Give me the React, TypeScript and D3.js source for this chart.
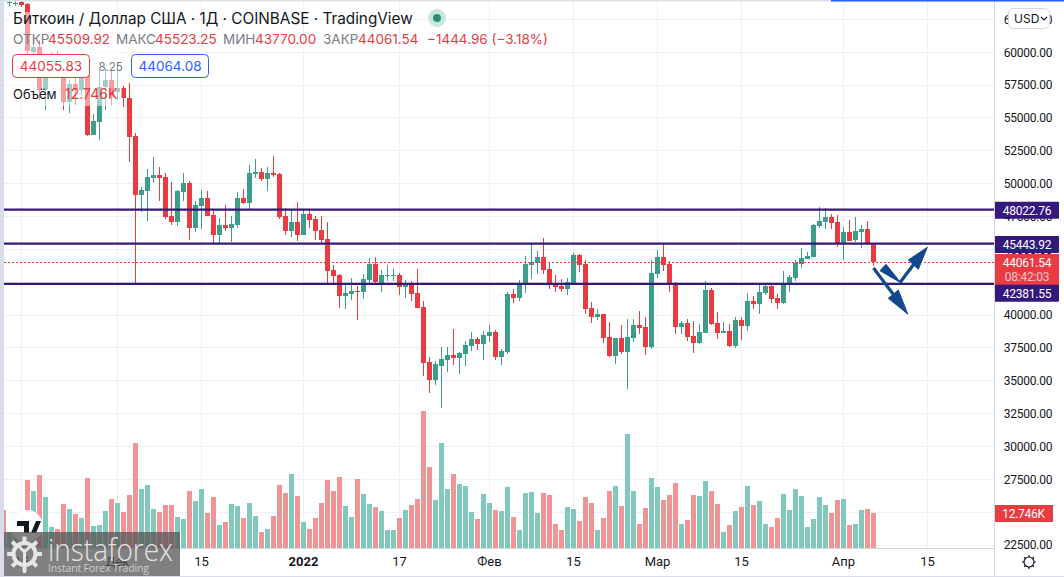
import * as d3 from "d3";
import React from "react";

const width = 1064;
const height = 577;

// one candle per day, first one is 12 Nov 2021
const startDate = new Date(Date.UTC(2021, 10, 12));

const opens = [
  64300, 63752, 63714, 63828, 63676, 60023, 60403, 57131, 58653, 59262, 58120, 56218, 57588, 57131, 58501, 53707,
  54696, 57359, 57892, 56979, 57283, 56522, 53630, 49141, 49468, 50434, 50663, 50510, 47542, 47086, 49369, 50054,
  46629, 48303, 48912, 47618, 46097, 46858, 46629, 46858, 48912, 48532, 50739, 50891, 50358, 50815, 50739, 47542,
  46401, 47086, 46097, 47695, 47314, 46477, 45792, 43433, 43052, 41454, 41607, 41835, 41759, 42672, 43890, 42444,
  42976, 42976, 43052, 42139, 42368, 41683, 40617, 36432, 35062, 36127, 36584, 36965, 36736, 37041, 37649, 38182,
  37802, 38410, 38715, 36812, 37193, 41607, 41302, 42292, 43814, 43966, 44422, 43509, 42368, 42215, 41987, 42444,
  44575, 43890, 40541, 39856, 40085, 38334, 36888, 38258, 37193, 38258, 39248, 39095, 37573, 43129, 44422, 43890,
  42444, 39095, 39400, 38410, 37878, 38639, 41911, 39400, 38639, 38791, 37649, 39628, 39171, 41074, 40846, 41683,
  42215, 41302, 40922, 42292, 42824, 43890, 44270, 44422, 46781, 47086, 47466, 47086, 45412, 46325, 45716, 46325,
  46553, 45509.92,
];
const highs = [
  64400, 63904, 63904, 63904, 63752, 60936, 60936, 59414, 60023, 60099, 58653, 57892, 58044, 58653, 58653, 55305,
  58653, 58805, 58653, 59262, 57435, 57664, 53859, 49749, 51119, 52032, 51271, 50815, 50130, 49521, 50815, 50206,
  48684, 49521, 49445, 48000, 47390, 48380, 47542, 49369, 49597, 51424, 51880, 51195, 51271, 52108, 50800, 48151,
  48000, 48608, 48000, 48000, 47542, 47542, 47086, 43814, 43129, 42292, 42824, 42215, 43129, 44346, 44422, 43433,
  43814, 43509, 43205, 42672, 42596, 43509, 41074, 36812, 36508, 37573, 37573, 38943, 37193, 38030, 38715, 38334,
  38791, 39248, 38867, 37421, 41759, 41987, 42672, 44498, 45488, 44879, 45868, 43966, 43052, 42748, 42824, 44727,
  44651, 44194, 41002, 40465, 40085, 39476, 38258, 39248, 39704, 39704, 40313, 39856, 44194, 44955, 45412, 44118,
  42520, 39552, 39704, 39552, 39324, 42596, 42063, 40237, 39476, 39324, 39856, 39856, 41683, 41454, 42368, 42444,
  42292, 41607, 43357, 43052, 44194, 45107, 44803, 46934, 48227, 48151, 47695, 47618, 46705, 47238, 47466, 46858,
  47162, 45523.25,
];
const lows = [
  64100, 63523, 63523, 63447, 59642, 59642, 56370, 55609, 58273, 58044, 55609, 55381, 55990, 56750, 53630, 53707,
  53326, 55609, 55990, 56370, 55837, 51652, 42368, 47847, 47162, 50054, 48684, 47314, 46858, 46781, 48684, 45716,
  46325, 46553, 47542, 45488, 45488, 46401, 45564, 46629, 48456, 48000, 50434, 50206, 49445, 50510, 47314, 46097,
  45944, 45640, 46097, 46629, 45716, 45412, 42368, 42368, 40541, 40465, 41150, 39628, 41226, 42444, 42292, 41759,
  42596, 42596, 41530, 41302, 41074, 40541, 35366, 34073, 34682, 32931, 35671, 36204, 35519, 36127, 37269, 37345,
  36584, 37954, 36584, 36204, 37041, 40922, 41074, 41683, 42748, 43129, 43129, 41987, 41759, 41759, 41530, 42444,
  43281, 40085, 39400, 39628, 37878, 36812, 36280, 37041, 34377, 37954, 38563, 36965, 37421, 42824, 43357, 41759,
  38563, 38563, 38030, 37117, 37802, 38639, 39248, 38182, 38639, 37573, 37497, 38106, 38791, 40465, 40085, 41530,
  40922, 40465, 40846, 41759, 42596, 43585, 44270, 44422, 46629, 46553, 46553, 45183, 44194, 45640, 45564, 45107,
  45336, 43770,
];
const closes = [
  64200, 63828, 63790, 63600, 60099, 60403, 57131, 58044, 59414, 58196, 56218, 57588, 57131, 58120, 53707, 54772,
  57359, 57892, 56598, 57283, 56522, 53554, 49141, 49521, 50510, 50663, 50434, 47466, 47086, 49445, 50054, 46629,
  48380, 48912, 47542, 46097, 46858, 46629, 46934, 48912, 48532, 50815, 50891, 50358, 50815, 50663, 47466, 46401,
  47086, 46097, 47695, 47238, 46401, 45716, 43357, 42976, 41454, 41683, 41835, 41759, 42748, 43890, 42520, 43052,
  43052, 43052, 42139, 42368, 41607, 40541, 36356, 35062, 36280, 36660, 36965, 36736, 37117, 37725, 38182, 37802,
  38487, 38715, 36812, 37269, 41607, 41302, 42368, 43890, 44042, 44422, 43433, 42292, 42139, 41987, 42520, 44575,
  43814, 40465, 39856, 40085, 38258, 36888, 38258, 37193, 38334, 39248, 39019, 37573, 43205, 44422, 43814, 42368,
  39095, 39400, 38334, 37878, 38715, 41911, 39324, 38639, 38791, 37649, 39628, 39171, 41074, 40846, 41759, 42215,
  41226, 40922, 42368, 42900, 43966, 44346, 44498, 46858, 47162, 47466, 47010, 45412, 46325, 45640, 46401, 46553,
  45412, 44061.54,
];

// volume in thousands
const volumes = [
  13.8, 5.9, 4.7, 2.9, 24.8, 20.8, 26.6, 18.6, 7.6, 6.9, 16, 14.2, 12.4, 10.9, 25.5, 8, 8.4, 13.5, 17.8, 16.4, 13.1,
  19.3, 38.2, 21.5, 22.9, 14.2, 13.1, 15.7, 15.7, 11.3, 10.6, 20.8, 17.1, 21.5, 12.7, 18.6, 8.4, 9.5, 16, 15.3, 10.9,
  16.4, 11.7, 5.8, 6.9, 11.7, 22.9, 20, 27, 18.9, 9.5, 6.9, 10.9, 16.4, 24.8, 20.8, 25.9, 15.3, 11.3, 25.1, 19.7, 16,
  14.9, 13.5, 6.6, 6.6, 10.9, 13.8, 15.7, 17.8, 49.9, 29.5, 17.5, 38.2, 21.5, 27, 23.3, 22.6, 13.1, 10.6, 19.7, 16.4,
  13.8, 13.5, 22.2, 11.3, 6.6, 20, 20.4, 12.7, 20, 19.3, 8.7, 6.6, 14.9, 14.2, 9.8, 18.6, 16.4, 6.6, 10.9, 20.8, 22.6,
  15.3, 41.5, 20.8, 8.7, 14.6, 25.5, 22.2, 17.5, 19.3, 23.7, 8.7, 10.2, 19.3, 18.9, 24.4, 20.8, 16, 5.8, 8.4, 13.5,
  14.9, 22.6, 15.7, 17.1, 8.7, 7.6, 10.9, 19.7, 13.8, 21.5, 18.9, 7.6, 10.6, 18.6, 15.7, 12.7, 17.5, 17.8, 8.4, 8.7,
  13.8, 14.2, 12.746,
];

const priceTicks = d3.range(22500, 62501, 2500);
const levels = [48022.76, 45443.92, 42381.55];
const lastPrice = 44061.54;
const lastVolume = 12.746;

const timeTicks: [Date, string][] = [
  [new Date(Date.UTC(2021, 10, 15)), "15"],
  [new Date(Date.UTC(2021, 11, 1)), "Дек"],
  [new Date(Date.UTC(2021, 11, 15)), "15"],
  [new Date(Date.UTC(2022, 0, 1)), "2022"],
  [new Date(Date.UTC(2022, 0, 17)), "17"],
  [new Date(Date.UTC(2022, 1, 1)), "Фев"],
  [new Date(Date.UTC(2022, 1, 15)), "15"],
  [new Date(Date.UTC(2022, 2, 1)), "Мар"],
  [new Date(Date.UTC(2022, 2, 15)), "15"],
  [new Date(Date.UTC(2022, 3, 1)), "Апр"],
  [new Date(Date.UTC(2022, 3, 15)), "15"],
];

const legendRow: [string, string][] = [
  ["ОТКР", "45509.92"],
  ["МАКС", "45523.25"],
  ["МИН", "43770.00"],
  ["ЗАКР", "44061.54"],
];

const up = "#3d9c8a";
const down = "#ea3a42";
const upVol = "#81c9bd";
const downVol = "#f09597";
const levelColor = "#34187c";
const grid = "#eff0f3";
const arrowBlue = "#12488c";
const sans = "Inter, 'Noto Sans', sans-serif";
const axisFont = "Roboto, sans-serif";

const paneRight = 994;
const paneBottom = 548;

const x = d3
  .scaleUtc()
  .domain([startDate, new Date(Date.UTC(2022, 3, 15))])
  .range([3.3, 927.3]);
const y = d3.scaleLinear().domain([60000, 22500]).range([52.3, 545]);
const volY = d3.scaleLinear().domain([0, lastVolume]).range([paneBottom, 513]);

const snap = (v: number) => Math.round(v - 0.5) + 0.5;
const fmt = d3.format(".2f");

const Gear: React.FC<{ cx: number; cy: number; r: number; color: string; sw: number }> = ({ cx, cy, r, color, sw }) => (
  <g stroke={color} fill="none" strokeWidth={sw}>
    <circle cx={cx} cy={cy} r={r} />
    {d3.range(8).map((k) => {
      const a = (k * Math.PI) / 4;
      return (
        <line
          key={k}
          x1={cx + Math.cos(a) * r}
          y1={cy + Math.sin(a) * r}
          x2={cx + Math.cos(a) * (r + sw * 1.6)}
          y2={cy + Math.sin(a) * (r + sw * 1.6)}
        />
      );
    })}
  </g>
);

const Candles: React.FC = () => (
  <g>
    {opens.map((o, i) => {
      const c = closes[i];
      const color = c >= o ? up : down;
      const cx = snap(x(d3.utcDay.offset(startDate, i)));
      const top = Math.round(y(Math.max(o, c)));
      const bottom = Math.round(y(Math.min(o, c)));
      return (
        <g key={i} fill={color} shapeRendering="crispEdges">
          <rect x={cx - 0.5} width={1} y={y(highs[i])} height={y(lows[i]) - y(highs[i])} />
          <rect x={cx - 2.5} width={5} y={top} height={Math.max(1, bottom - top)} />
        </g>
      );
    })}
  </g>
);

const VolumeBars: React.FC = () => (
  <g shapeRendering="crispEdges">
    {volumes.map((v, i) => {
      const cx = snap(x(d3.utcDay.offset(startDate, i)));
      return (
        <rect
          key={i}
          x={cx - 2.5}
          width={5}
          y={volY(v)}
          height={paneBottom - volY(v)}
          fill={closes[i] >= opens[i] ? upVol : downVol}
        />
      );
    })}
  </g>
);

const Arrows: React.FC = () => (
  <g fill={arrowBlue} stroke={arrowBlue}>
    <line x1={873.5} y1={268} x2={899} y2={302} strokeWidth={3.2} />
    <path d="M907.7 314 L888.3 298.3 L898.3 290 Z" strokeWidth={1} />
    <line x1={900} y1={282.5} x2={914} y2={264} strokeWidth={3.2} />
    <path d="M927.3 247.3 L908.3 260 L918.3 269.3 Z" strokeWidth={1} />
    <path d="M900.7 282.7 L880 270.7 L886 264.3 Z" strokeWidth={1} />
  </g>
);

const Legend: React.FC = () => {
  const rowX = [13, 116, 223, 323];
  const valX = [48, 155, 255, 358];
  return (
    <g fontFamily={sans}>
      <rect x={10} y={12} width={112} height={94} fill="#fff" fillOpacity={0.5} />
      <text x={13} y={24} fontSize={15.3} fill="#131722">
        Биткоин / Доллар США · 1Д · COINBASE · TradingView
      </text>
      <circle cx={437} cy={18} r={9} fill="#c9e6df" />
      <circle cx={437} cy={18} r={4} fill="#2f8f75" />
      {legendRow.map(([name, val], i) => (
        <g key={name} fontSize={13.5}>
          <text x={rowX[i]} y={44} fill="#787b86">
            {name}
          </text>
          <text x={valX[i]} y={44} fill={down}>
            {val}
          </text>
        </g>
      ))}
      <text x={427} y={44} fontSize={13.5} fill={down}>
        −1444.96 (−3.18%)
      </text>
      <rect x={12.5} y={54.5} width={77} height={23} rx={4} fill="#fff" stroke={down} />
      <text x={51} y={71} fontSize={13.5} fill={down} textAnchor="middle">
        44055.83
      </text>
      <text x={110.7} y={71} fontSize={11.5} fill="#787b86" textAnchor="middle">
        8.25
      </text>
      <rect x={131.5} y={54.5} width={77} height={23} rx={4} fill="#fff" stroke="#2962ff" />
      <text x={170} y={71} fontSize={13.5} fill="#2962ff" textAnchor="middle">
        44064.08
      </text>
      <text x={13} y={99} fontSize={13} fill="#131722">
        Объём
      </text>
      <text x={65} y={99} fontSize={14} fill={down}>
        12.746K
      </text>
    </g>
  );
};

// the third level label is pushed below the last price box, as TradingView does
const levelLabelY = [210.3, 244.6, 293.3];

const PriceAxis: React.FC = () => (
  <g fontFamily={axisFont} fontSize={12} letterSpacing={-0.25}>
    <rect x={paneRight} y={0} width={width - paneRight} height={height} fill="#fff" />
    {priceTicks.map((t) => (
      <text key={t} x={1028} y={y(t) + 4.2} textAnchor="middle" fill="#131722">
        {fmt(t)}
      </text>
    ))}
    <rect x={paneRight} y={254} width={65} height={31} fill={down} />
    <text x={1027} y={267} textAnchor="middle" fill="#fff">
      {fmt(lastPrice)}
    </text>
    <text x={1027} y={281} textAnchor="middle" fill="#f9c6c9">
      08:42:03
    </text>
    {levels.map((l, i) => (
      <g key={l}>
        <rect x={paneRight} y={levelLabelY[i] - 8.5} width={65} height={17} rx={1} fill={levelColor} />
        <text x={1027} y={levelLabelY[i] + 4.2} textAnchor="middle" fill="#fff">
          {fmt(l)}
        </text>
      </g>
    ))}
    <rect x={paneRight} y={505} width={59} height={17} fill={down} />
    <text x={1023.5} y={518} textAnchor="middle" fill="#fff">
      {lastVolume}K
    </text>
    <rect x={1008.5} y={8.5} width={41} height={20} rx={5} fill="#fff" stroke="#d6d9e2" />
    <text x={1014} y={23} fontSize={12} fontFamily={sans} letterSpacing={0} fill="#131722">
      USD
    </text>
    <path d="M1041 17 L1044 20 L1047 17" fill="none" stroke="#131722" strokeWidth={1.2} />
    <line x1={paneRight + 0.5} x2={paneRight + 0.5} y1={0} y2={576} stroke="#d6d8df" />
    <Gear cx={1029} cy={562} r={5} color="#131722" sw={1.2} />
  </g>
);

const TimeAxis: React.FC = () => (
  <g fontFamily={axisFont} fontSize={13} fill="#131722" textAnchor="middle">
    <rect x={0} y={paneBottom} width={paneRight} height={height - paneBottom} fill="#fff" />
    <line x1={4} x2={width} y1={paneBottom + 0.5} y2={paneBottom + 0.5} stroke="#d6d8df" />
    {timeTicks.map(([d, label]) => (
      <text key={label + d.getTime()} x={snap(x(d))} y={566} fontWeight={label === "2022" ? 700 : 400}>
        {label}
      </text>
    ))}
  </g>
);

const Watermark: React.FC = () => (
  <g>
    <circle cx={27} cy={526} r={16} fill="#fff" />
    <path d="M17 521 H29 V533 H24 V526 H17 Z M31 533 L36 521 H41 L36 533 Z" fill="#131722" />
    <rect x={0} y={532} width={180} height={45} fill="#555" fillOpacity={0.75} />
    <Gear cx={24.5} cy={554} r={11} color="#e6e6e6" sw={4} />
    <path d="M24.5 549 V573 M18.5 546 L24.5 552 L30.5 546" stroke="#e6e6e6" strokeWidth={3} fill="none" />
    <text
      x={48}
      y={561}
      fontFamily="'Open Sans', sans-serif"
      fontWeight={300}
      fontSize={31}
      fill="#e4e4e4"
      textLength={125}
      lengthAdjust="spacingAndGlyphs"
    >
      instaforex
    </text>
    <text x={48} y={572} fontFamily="'Open Sans', sans-serif" fontSize={10.5} fill="#cfcfcf" textLength={101}>
      Instant Forex Trading
    </text>
  </g>
);

export default function App() {
  return (
    <svg
      width={width}
      height={height}
      viewBox={`0 0 ${width} ${height}`}
      style={{ position: "fixed", left: 0, top: 0, background: "#fff" }}
    >
      <g shapeRendering="crispEdges">
        {priceTicks.map((t) => (
          <line key={t} x1={4} x2={paneRight} y1={snap(y(t))} y2={snap(y(t))} stroke={grid} />
        ))}
        {timeTicks.map(([d]) => (
          <line key={d.getTime()} x1={snap(x(d))} x2={snap(x(d))} y1={1} y2={paneBottom} stroke={grid} />
        ))}
      </g>
      <VolumeBars />
      <Candles />
      {levels.map((l) => (
        <line key={l} x1={4} x2={paneRight} y1={y(l)} y2={y(l)} stroke={levelColor} strokeWidth={2.2} />
      ))}
      <line
        x1={4}
        x2={paneRight}
        y1={Math.round(y(lastPrice)) + 0.5}
        y2={Math.round(y(lastPrice)) + 0.5}
        stroke={down}
        strokeDasharray="2 2"
        strokeWidth={1}
        shapeRendering="crispEdges"
      />
      <Arrows />
      <Legend />
      <TimeAxis />
      <PriceAxis />
      <Watermark />
      <rect x={0} y={0} width={4} height={height} fill="#d9dde9" />
      <rect x={0} y={576} width={width} height={1} fill="#d9dde9" />
      <rect x={4} y={0} width={width - 4} height={1.5} fill="#dfe1e8" />
      <rect x={831} y={0} width={width - 831} height={1.5} fill="#2962ff" />
    </svg>
  );
}
